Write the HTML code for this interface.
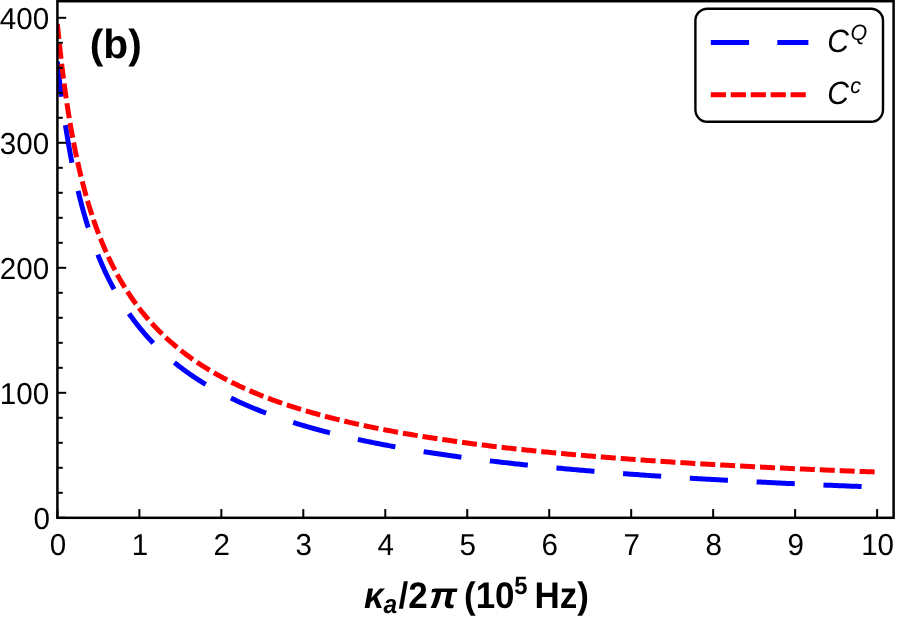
<!DOCTYPE html>
<html><head><meta charset="utf-8"><title>plot</title>
<style>
html,body{margin:0;padding:0;background:#fff;}
body{width:897px;height:618px;overflow:hidden;}
svg{display:block;will-change:transform;text-rendering:geometricPrecision;font-family:"Liberation Sans",sans-serif;}
.tk line{stroke:#000;stroke-width:2.0;}
.lab text{font-size:29.6px;fill:#000;}
</style></head>
<body>
<svg width="897" height="618" viewBox="0 0 897 618">
<rect width="897" height="618" fill="#fff"/>
<defs><clipPath id="cp"><rect x="57.4" y="1.2" width="836.20" height="516.60"/></clipPath></defs>
<g clip-path="url(#cp)" fill="none" stroke-width="5.0">
<path d="M57.4,61.75 L57.51,62.77 L57.63,63.94 L57.73,64.87 L57.85,65.98 L57.99,67.26 L58.09,68.22 L58.2,69.26 L58.33,70.38 L58.46,71.58 L58.6,72.85 L58.75,74.21 L58.91,75.64 L59.09,77.14 L59.27,78.72 L59.46,80.38 L59.66,82.1 L59.77,82.99 L59.87,83.9 L59.98,84.82 L60.1,85.76 L60.21,86.72 L60.33,87.69 L60.45,88.68 L60.58,89.68 L60.7,90.71 L60.83,91.74 L60.96,92.79 L61.1,93.86 L61.23,94.94 L61.37,96.04 L61.51,97.15 L61.66,98.27 L61.81,99.41 L61.96,100.56 L62.11,101.72 L62.27,102.89 L62.43,104.08 L62.59,105.28 L62.75,106.49 L62.92,107.72 L63.09,108.95 L63.26,110.2 L63.44,111.45 L63.62,112.72 L63.8,114 L63.98,115.28 L64.17,116.58 L64.36,117.88 L64.55,119.2 L64.75,120.52 L64.95,121.85 L65.15,123.19 L65.35,124.54 L65.56,125.89 L65.77,127.25 L65.98,128.62 L66.2,130 L66.42,131.38 L66.64,132.76 L66.87,134.16 L67.09,135.56 L67.32,136.96 L67.56,138.37 L67.79,139.78 L68.03,141.2 L68.28,142.63 L68.52,144.05 L68.77,145.48 L69.02,146.92 L69.28,148.36 L69.54,149.8 L69.8,151.24 L70.06,152.69 L70.33,154.14 L70.6,155.59 L70.87,157.04 L71.14,158.49 L71.42,159.95 L71.71,161.41 L71.99,162.87 L72.28,164.33 L72.57,165.79 L72.86,167.25 L73.16,168.71 L73.46,170.17 L73.77,171.63 L74.07,173.09 L74.38,174.56 L74.7,176.02 L75.01,177.48 L75.33,178.94 L75.65,180.39 L75.98,181.85 L76.31,183.31 L76.64,184.76 L76.97,186.21 L77.31,187.66 L77.65,189.11 L78,190.56 L78.34,192.01 L78.7,193.45 L79.05,194.89 L79.41,196.33 L79.77,197.76 L80.13,199.19 L80.5,200.62 L80.87,202.05 L81.24,203.48 L81.62,204.9 L81.99,206.31 L82.38,207.73 L82.76,209.14 L83.15,210.55 L83.54,211.95 L83.94,213.35 L84.34,214.75 L84.74,216.14 L85.15,217.53 L85.55,218.91 L85.97,220.29 L86.38,221.67 L86.8,223.04 L87.22,224.41 L87.65,225.77 L88.07,227.13 L88.51,228.49 L88.94,229.84 L89.38,231.18 L89.82,232.52 L90.27,233.86 L90.71,235.19 L91.16,236.52 L91.62,237.84 L92.08,239.16 L92.54,240.47 L93,241.78 L93.47,243.08 L93.94,244.38 L94.42,245.67 L94.89,246.96 L95.38,248.25 L95.86,249.52 L96.35,250.8 L96.84,252.07 L97.33,253.33 L97.83,254.59 L98.33,255.84 L98.84,257.09 L99.35,258.33 L99.86,259.57 L100.37,260.8 L100.89,262.02 L101.41,263.25 L101.94,264.46 L102.47,265.67 L103,266.88 L103.53,268.08 L104.07,269.27 L104.61,270.46 L105.16,271.65 L105.71,272.83 L106.26,274 L106.82,275.17 L107.38,276.33 L107.94,277.49 L108.51,278.64 L109.08,279.79 L109.65,280.93 L110.22,282.07 L110.8,283.2 L111.39,284.33 L111.97,285.45 L112.57,286.56 L113.16,287.67 L113.76,288.78 L114.36,289.88 L114.96,290.97 L115.57,292.06 L116.18,293.14 L116.79,294.22 L117.41,295.3 L118.03,296.36 L118.66,297.43 L119.29,298.49 L119.92,299.54 L120.56,300.59 L121.19,301.63 L121.84,302.67 L122.48,303.7 L123.13,304.73 L123.79,305.75 L124.44,306.77 L125.1,307.78 L125.77,308.78 L126.43,309.79 L127.1,310.78 L127.78,311.77 L128.46,312.76 L129.14,313.74 L129.82,314.72 L130.51,315.69 L131.2,316.66 L131.9,317.62 L132.6,318.58 L133.3,319.53 L134.01,320.48 L134.72,321.42 L135.43,322.36 L136.15,323.29 L136.87,324.22 L137.59,325.15 L138.32,326.07 L139.05,326.98 L139.79,327.89 L140.53,328.79 L141.27,329.7 L142.01,330.59 L142.76,331.48 L143.52,332.37 L144.27,333.25 L145.03,334.13 L145.8,335 L146.56,335.87 L147.34,336.73 L148.11,337.59 L148.89,338.45 L149.67,339.3 L150.46,340.14 L151.25,340.98 L152.04,341.82 L152.84,342.65 L153.64,343.48 L154.44,344.31 L155.25,345.13 L156.06,345.94 L156.87,346.75 L157.69,347.56 L158.51,348.36 L159.34,349.16 L160.17,349.96 L161,350.75 L161.84,351.53 L162.68,352.32 L163.52,353.09 L164.37,353.87 L165.22,354.64 L166.08,355.4 L166.93,356.16 L167.8,356.92 L168.66,357.68 L169.53,358.43 L170.41,359.17 L171.28,359.91 L172.17,360.65 L173.05,361.39 L173.94,362.12 L174.83,362.84 L175.73,363.57 L176.63,364.28 L177.53,365 L178.44,365.71 L179.35,366.42 L180.26,367.12 L181.18,367.82 L182.1,368.52 L183.03,369.21 L183.96,369.9 L184.89,370.59 L185.83,371.27 L186.77,371.95 L187.71,372.62 L188.66,373.29 L189.61,373.96 L190.57,374.63 L191.52,375.29 L192.49,375.94 L193.45,376.6 L194.43,377.25 L195.4,377.89 L196.38,378.54 L197.36,379.18 L198.35,379.81 L199.33,380.45 L200.33,381.08 L201.32,381.7 L202.33,382.33 L203.33,382.95 L204.34,383.56 L205.35,384.18 L206.37,384.79 L207.39,385.4 L208.41,386 L209.44,386.6 L210.47,387.2 L211.5,387.79 L212.54,388.38 L213.58,388.97 L214.63,389.56 L215.68,390.14 L216.73,390.72 L217.79,391.29 L218.85,391.87 L219.92,392.44 L220.99,393 L222.06,393.57 L223.14,394.13 L224.22,394.69 L225.3,395.24 L226.39,395.8 L227.48,396.34 L228.58,396.89 L229.68,397.43 L230.78,397.98 L231.89,398.51 L233,399.05 L234.12,399.58 L235.24,400.11 L236.36,400.64 L237.49,401.16 L238.62,401.68 L239.75,402.2 L240.89,402.72 L242.03,403.23 L243.18,403.74 L244.33,404.25 L245.48,404.75 L246.64,405.26 L247.8,405.76 L248.97,406.25 L250.14,406.75 L251.31,407.24 L252.49,407.73 L253.67,408.22 L254.85,408.7 L256.04,409.18 L257.23,409.66 L258.43,410.14 L259.63,410.62 L260.84,411.09 L262.04,411.56 L263.26,412.03 L264.47,412.49 L265.69,412.95 L266.92,413.41 L268.14,413.87 L269.38,414.33 L270.61,414.78 L271.85,415.23 L273.1,415.68 L274.34,416.12 L275.59,416.57 L276.85,417.01 L278.11,417.45 L279.37,417.88 L280.64,418.32 L281.91,418.75 L283.18,419.18 L284.46,419.61 L285.75,420.03 L287.03,420.46 L288.32,420.88 L289.62,421.3 L290.92,421.71 L292.22,422.13 L293.53,422.54 L294.84,422.95 L296.15,423.36 L297.47,423.77 L298.79,424.17 L300.12,424.57 L301.45,424.97 L302.78,425.37 L304.12,425.77 L305.46,426.16 L306.81,426.55 L308.16,426.94 L309.51,427.33 L310.87,427.72 L312.23,428.1 L313.6,428.49 L314.97,428.87 L316.34,429.24 L317.72,429.62 L319.1,429.99 L320.49,430.37 L321.88,430.74 L323.27,431.11 L324.67,431.47 L326.07,431.84 L327.48,432.2 L328.89,432.56 L330.3,432.92 L331.72,433.28 L333.14,433.64 L334.57,433.99 L336,434.34 L337.43,434.69 L338.87,435.04 L340.31,435.39 L341.76,435.73 L343.21,436.08 L344.66,436.42 L346.12,436.76 L347.59,437.1 L349.05,437.43 L350.52,437.77 L352,438.1 L353.47,438.43 L354.96,438.76 L356.44,439.09 L357.93,439.42 L359.43,439.74 L360.93,440.07 L362.43,440.39 L363.94,440.71 L365.45,441.03 L366.96,441.34 L368.48,441.66 L370,441.97 L371.53,442.28 L373.06,442.59 L374.6,442.9 L376.14,443.21 L377.68,443.52 L379.23,443.82 L380.78,444.12 L382.33,444.43 L383.89,444.72 L385.46,445.02 L387.02,445.32 L388.59,445.62 L390.17,445.91 L391.75,446.2 L393.33,446.49 L394.92,446.78 L396.51,447.07 L398.11,447.36 L399.71,447.64 L401.32,447.93 L402.92,448.21 L404.54,448.49 L406.15,448.77 L407.77,449.05 L409.4,449.33 L411.03,449.6 L412.66,449.88 L414.3,450.15 L415.94,450.42 L417.58,450.69 L419.23,450.96 L420.89,451.23 L422.54,451.49 L424.21,451.76 L425.87,452.02 L427.54,452.28 L429.22,452.54 L430.89,452.8 L432.58,453.06 L434.26,453.32 L435.95,453.58 L437.65,453.83 L439.35,454.08 L441.05,454.34 L442.76,454.59 L444.47,454.84 L446.19,455.09 L447.9,455.33 L449.63,455.58 L451.36,455.82 L453.09,456.07 L454.82,456.31 L456.56,456.55 L458.31,456.79 L460.06,457.03 L461.81,457.27 L463.57,457.51 L465.33,457.74 L467.09,457.98 L468.86,458.21 L470.64,458.44 L472.41,458.67 L474.2,458.9 L475.98,459.13 L477.77,459.36 L479.57,459.58 L481.37,459.81 L483.17,460.03 L484.98,460.26 L486.79,460.48 L488.6,460.7 L490.42,460.92 L492.24,461.14 L494.07,461.36 L495.9,461.57 L497.74,461.79 L499.58,462.01 L501.43,462.22 L503.27,462.43 L505.13,462.64 L506.98,462.85 L508.85,463.06 L510.71,463.27 L512.58,463.48 L514.45,463.69 L516.33,463.89 L518.21,464.1 L520.1,464.3 L521.99,464.5 L523.89,464.71 L525.79,464.91 L527.69,465.11 L529.6,465.31 L531.51,465.5 L533.42,465.7 L535.34,465.9 L537.27,466.09 L539.2,466.29 L541.13,466.48 L543.07,466.67 L545.01,466.86 L546.95,467.05 L548.9,467.24 L550.86,467.43 L552.82,467.62 L554.78,467.81 L556.74,467.99 L558.72,468.18 L560.69,468.36 L562.67,468.55 L564.65,468.73 L566.64,468.91 L568.63,469.09 L570.63,469.27 L572.63,469.45 L574.63,469.63 L576.64,469.81 L578.66,469.98 L580.67,470.16 L582.7,470.33 L584.72,470.51 L586.75,470.68 L588.79,470.85 L590.83,471.03 L592.87,471.2 L594.92,471.37 L596.97,471.54 L599.02,471.7 L601.08,471.87 L603.15,472.04 L605.22,472.2 L607.29,472.37 L609.37,472.53 L611.45,472.7 L613.53,472.86 L615.62,473.02 L617.72,473.19 L619.82,473.35 L621.92,473.51 L624.03,473.66 L626.14,473.82 L628.25,473.98 L630.37,474.14 L632.5,474.29 L634.63,474.45 L636.76,474.6 L638.9,474.76 L641.04,474.91 L643.18,475.06 L645.33,475.22 L647.49,475.37 L649.65,475.52 L651.81,475.67 L653.98,475.82 L656.15,475.97 L658.32,476.11 L660.51,476.26 L662.69,476.41 L664.88,476.55 L667.07,476.7 L669.27,476.84 L671.47,476.99 L673.68,477.13 L675.89,477.27 L678.1,477.41 L680.32,477.55 L682.54,477.69 L684.77,477.83 L687,477.97 L689.24,478.11 L691.48,478.25 L693.72,478.39 L695.97,478.52 L698.23,478.66 L700.49,478.79 L702.75,478.93 L705.01,479.06 L707.29,479.19 L709.56,479.33 L711.84,479.46 L714.12,479.59 L716.41,479.72 L718.7,479.85 L721,479.98 L723.3,480.11 L725.61,480.24 L727.92,480.37 L730.23,480.49 L732.55,480.62 L734.87,480.75 L737.2,480.87 L739.53,481 L741.87,481.12 L744.21,481.25 L746.55,481.37 L748.9,481.49 L751.26,481.61 L753.62,481.73 L755.98,481.86 L758.34,481.98 L760.71,482.1 L763.09,482.22 L765.47,482.33 L767.85,482.45 L770.24,482.57 L772.64,482.69 L775.03,482.8 L777.43,482.92 L779.84,483.03 L782.25,483.15 L784.67,483.26 L787.08,483.38 L789.51,483.49 L791.94,483.6 L794.37,483.72 L796.8,483.83 L799.25,483.94 L801.69,484.05 L804.14,484.16 L806.59,484.27 L809.05,484.38 L811.52,484.49 L813.98,484.6 L816.46,484.7 L818.93,484.81 L821.41,484.92 L823.9,485.02 L826.39,485.13 L828.88,485.24 L831.38,485.34 L833.88,485.44 L836.39,485.55 L838.9,485.65 L841.42,485.75 L843.94,485.86 L846.46,485.96 L848.99,486.06 L851.52,486.16 L854.06,486.26 L856.6,486.36 L859.15,486.46 L861.7,486.56 L864.26,486.66 L866.82,486.76 L869.38,486.86 L871.95,486.95 L874.52,487.05 L877.1,487.15" stroke="#0000ff" stroke-dasharray="38.2 28.7" stroke-dashoffset="3"/>
<path d="M57.4,24.08 L57.49,25.01 L57.6,26.18 L57.69,27.14 L57.81,28.29 L57.94,29.63 L58.04,30.64 L58.15,31.73 L58.26,32.91 L58.39,34.18 L58.53,35.54 L58.68,36.97 L58.83,38.5 L59,40.1 L59.18,41.79 L59.36,43.56 L59.46,44.47 L59.56,45.41 L59.66,46.36 L59.77,47.33 L59.87,48.32 L59.98,49.33 L60.1,50.35 L60.21,51.4 L60.33,52.46 L60.45,53.54 L60.58,54.63 L60.7,55.75 L60.83,56.88 L60.96,58.02 L61.1,59.19 L61.23,60.36 L61.37,61.56 L61.51,62.76 L61.66,63.99 L61.81,65.22 L61.96,66.48 L62.11,67.74 L62.27,69.02 L62.43,70.31 L62.59,71.62 L62.75,72.93 L62.92,74.26 L63.09,75.6 L63.26,76.96 L63.44,78.32 L63.62,79.7 L63.8,81.08 L63.98,82.48 L64.17,83.88 L64.36,85.3 L64.55,86.72 L64.75,88.16 L64.95,89.6 L65.15,91.05 L65.35,92.51 L65.56,93.98 L65.77,95.45 L65.98,96.93 L66.2,98.42 L66.42,99.91 L66.64,101.42 L66.87,102.92 L67.09,104.43 L67.32,105.95 L67.56,107.47 L67.79,109 L68.03,110.53 L68.28,112.07 L68.52,113.61 L68.77,115.16 L69.02,116.7 L69.28,118.25 L69.54,119.81 L69.8,121.36 L70.06,122.92 L70.33,124.48 L70.6,126.05 L70.87,127.61 L71.14,129.18 L71.42,130.74 L71.71,132.31 L71.99,133.88 L72.28,135.45 L72.57,137.02 L72.86,138.59 L73.16,140.16 L73.46,141.73 L73.77,143.3 L74.07,144.87 L74.38,146.44 L74.7,148.01 L75.01,149.58 L75.33,151.14 L75.65,152.7 L75.98,154.27 L76.31,155.83 L76.64,157.39 L76.97,158.94 L77.31,160.5 L77.65,162.05 L78,163.6 L78.34,165.15 L78.7,166.69 L79.05,168.23 L79.41,169.77 L79.77,171.3 L80.13,172.84 L80.5,174.36 L80.87,175.89 L81.24,177.41 L81.62,178.93 L81.99,180.44 L82.38,181.95 L82.76,183.46 L83.15,184.96 L83.54,186.46 L83.94,187.95 L84.34,189.44 L84.74,190.92 L85.15,192.41 L85.55,193.88 L85.97,195.35 L86.38,196.82 L86.8,198.28 L87.22,199.74 L87.65,201.19 L88.07,202.64 L88.51,204.08 L88.94,205.51 L89.38,206.95 L89.82,208.37 L90.27,209.79 L90.71,211.21 L91.16,212.62 L91.62,214.03 L92.08,215.43 L92.54,216.82 L93,218.21 L93.47,219.59 L93.94,220.97 L94.42,222.34 L94.89,223.71 L95.38,225.07 L95.86,226.43 L96.35,227.78 L96.84,229.12 L97.33,230.46 L97.83,231.8 L98.33,233.12 L98.84,234.44 L99.35,235.76 L99.86,237.07 L100.37,238.37 L100.89,239.67 L101.41,240.97 L101.94,242.25 L102.47,243.53 L103,244.81 L103.53,246.08 L104.07,247.34 L104.61,248.6 L105.16,249.85 L105.71,251.1 L106.26,252.34 L106.82,253.57 L107.38,254.8 L107.94,256.03 L108.51,257.24 L109.08,258.45 L109.65,259.66 L110.22,260.86 L110.8,262.05 L111.39,263.24 L111.97,264.42 L112.57,265.6 L113.16,266.77 L113.76,267.93 L114.36,269.09 L114.96,270.25 L115.57,271.39 L116.18,272.54 L116.79,273.67 L117.41,274.8 L118.03,275.93 L118.66,277.05 L119.29,278.16 L119.92,279.27 L120.56,280.37 L121.19,281.47 L121.84,282.56 L122.48,283.64 L123.13,284.72 L123.79,285.8 L124.44,286.87 L125.1,287.93 L125.77,288.99 L126.43,290.04 L127.1,291.09 L127.78,292.13 L128.46,293.17 L129.14,294.2 L129.82,295.22 L130.51,296.24 L131.2,297.26 L131.9,298.27 L132.6,299.27 L133.3,300.27 L134.01,301.26 L134.72,302.25 L135.43,303.24 L136.15,304.21 L136.87,305.19 L137.59,306.15 L138.32,307.12 L139.05,308.07 L139.79,309.03 L140.53,309.97 L141.27,310.92 L142.01,311.85 L142.76,312.79 L143.52,313.71 L144.27,314.64 L145.03,315.55 L145.8,316.47 L146.56,317.37 L147.34,318.28 L148.11,319.17 L148.89,320.07 L149.67,320.96 L150.46,321.84 L151.25,322.72 L152.04,323.59 L152.84,324.46 L153.64,325.33 L154.44,326.19 L155.25,327.04 L156.06,327.89 L156.87,328.74 L157.69,329.58 L158.51,330.42 L159.34,331.25 L160.17,332.08 L161,332.9 L161.84,333.72 L162.68,334.54 L163.52,335.35 L164.37,336.15 L165.22,336.96 L166.08,337.75 L166.93,338.55 L167.8,339.33 L168.66,340.12 L169.53,340.9 L170.41,341.68 L171.28,342.45 L172.17,343.22 L173.05,343.98 L173.94,344.74 L174.83,345.49 L175.73,346.24 L176.63,346.99 L177.53,347.73 L178.44,348.47 L179.35,349.21 L180.26,349.94 L181.18,350.67 L182.1,351.39 L183.03,352.11 L183.96,352.82 L184.89,353.53 L185.83,354.24 L186.77,354.95 L187.71,355.64 L188.66,356.34 L189.61,357.03 L190.57,357.72 L191.52,358.41 L192.49,359.09 L193.45,359.76 L194.43,360.44 L195.4,361.11 L196.38,361.77 L197.36,362.44 L198.35,363.1 L199.33,363.75 L200.33,364.4 L201.32,365.05 L202.33,365.7 L203.33,366.34 L204.34,366.98 L205.35,367.61 L206.37,368.24 L207.39,368.87 L208.41,369.49 L209.44,370.11 L210.47,370.73 L211.5,371.35 L212.54,371.96 L213.58,372.56 L214.63,373.17 L215.68,373.77 L216.73,374.37 L217.79,374.96 L218.85,375.55 L219.92,376.14 L220.99,376.73 L222.06,377.31 L223.14,377.89 L224.22,378.46 L225.3,379.03 L226.39,379.6 L227.48,380.17 L228.58,380.73 L229.68,381.29 L230.78,381.85 L231.89,382.4 L233,382.95 L234.12,383.5 L235.24,384.05 L236.36,384.59 L237.49,385.13 L238.62,385.67 L239.75,386.2 L240.89,386.73 L242.03,387.26 L243.18,387.78 L244.33,388.31 L245.48,388.82 L246.64,389.34 L247.8,389.85 L248.97,390.37 L250.14,390.87 L251.31,391.38 L252.49,391.88 L253.67,392.38 L254.85,392.88 L256.04,393.38 L257.23,393.87 L258.43,394.36 L259.63,394.84 L260.84,395.33 L262.04,395.81 L263.26,396.29 L264.47,396.77 L265.69,397.24 L266.92,397.71 L268.14,398.18 L269.38,398.65 L270.61,399.11 L271.85,399.57 L273.1,400.03 L274.34,400.49 L275.59,400.94 L276.85,401.39 L278.11,401.84 L279.37,402.29 L280.64,402.74 L281.91,403.18 L283.18,403.62 L284.46,404.06 L285.75,404.49 L287.03,404.92 L288.32,405.35 L289.62,405.78 L290.92,406.21 L292.22,406.63 L293.53,407.06 L294.84,407.47 L296.15,407.89 L297.47,408.31 L298.79,408.72 L300.12,409.13 L301.45,409.54 L302.78,409.95 L304.12,410.35 L305.46,410.75 L306.81,411.15 L308.16,411.55 L309.51,411.95 L310.87,412.34 L312.23,412.73 L313.6,413.12 L314.97,413.51 L316.34,413.89 L317.72,414.28 L319.1,414.66 L320.49,415.04 L321.88,415.42 L323.27,415.79 L324.67,416.16 L326.07,416.54 L327.48,416.91 L328.89,417.27 L330.3,417.64 L331.72,418 L333.14,418.37 L334.57,418.73 L336,419.08 L337.43,419.44 L338.87,419.8 L340.31,420.15 L341.76,420.5 L343.21,420.85 L344.66,421.2 L346.12,421.54 L347.59,421.88 L349.05,422.23 L350.52,422.57 L352,422.91 L353.47,423.24 L354.96,423.58 L356.44,423.91 L357.93,424.24 L359.43,424.57 L360.93,424.9 L362.43,425.23 L363.94,425.55 L365.45,425.87 L366.96,426.19 L368.48,426.51 L370,426.83 L371.53,427.15 L373.06,427.46 L374.6,427.78 L376.14,428.09 L377.68,428.4 L379.23,428.71 L380.78,429.01 L382.33,429.32 L383.89,429.62 L385.46,429.92 L387.02,430.23 L388.59,430.52 L390.17,430.82 L391.75,431.12 L393.33,431.41 L394.92,431.71 L396.51,432 L398.11,432.29 L399.71,432.58 L401.32,432.86 L402.92,433.15 L404.54,433.43 L406.15,433.71 L407.77,434 L409.4,434.28 L411.03,434.55 L412.66,434.83 L414.3,435.11 L415.94,435.38 L417.58,435.65 L419.23,435.93 L420.89,436.2 L422.54,436.46 L424.21,436.73 L425.87,437 L427.54,437.26 L429.22,437.53 L430.89,437.79 L432.58,438.05 L434.26,438.31 L435.95,438.57 L437.65,438.82 L439.35,439.08 L441.05,439.33 L442.76,439.59 L444.47,439.84 L446.19,440.09 L447.9,440.34 L449.63,440.58 L451.36,440.83 L453.09,441.08 L454.82,441.32 L456.56,441.56 L458.31,441.81 L460.06,442.05 L461.81,442.29 L463.57,442.52 L465.33,442.76 L467.09,443 L468.86,443.23 L470.64,443.46 L472.41,443.7 L474.2,443.93 L475.98,444.16 L477.77,444.39 L479.57,444.61 L481.37,444.84 L483.17,445.07 L484.98,445.29 L486.79,445.51 L488.6,445.74 L490.42,445.96 L492.24,446.18 L494.07,446.4 L495.9,446.61 L497.74,446.83 L499.58,447.05 L501.43,447.26 L503.27,447.47 L505.13,447.69 L506.98,447.9 L508.85,448.11 L510.71,448.32 L512.58,448.53 L514.45,448.73 L516.33,448.94 L518.21,449.14 L520.1,449.35 L521.99,449.55 L523.89,449.75 L525.79,449.96 L527.69,450.16 L529.6,450.35 L531.51,450.55 L533.42,450.75 L535.34,450.95 L537.27,451.14 L539.2,451.34 L541.13,451.53 L543.07,451.72 L545.01,451.91 L546.95,452.1 L548.9,452.29 L550.86,452.48 L552.82,452.67 L554.78,452.86 L556.74,453.04 L558.72,453.23 L560.69,453.41 L562.67,453.6 L564.65,453.78 L566.64,453.96 L568.63,454.14 L570.63,454.32 L572.63,454.5 L574.63,454.68 L576.64,454.86 L578.66,455.03 L580.67,455.21 L582.7,455.38 L584.72,455.56 L586.75,455.73 L588.79,455.9 L590.83,456.07 L592.87,456.24 L594.92,456.41 L596.97,456.58 L599.02,456.75 L601.08,456.92 L603.15,457.08 L605.22,457.25 L607.29,457.41 L609.37,457.58 L611.45,457.74 L613.53,457.9 L615.62,458.06 L617.72,458.23 L619.82,458.39 L621.92,458.54 L624.03,458.7 L626.14,458.86 L628.25,459.02 L630.37,459.17 L632.5,459.33 L634.63,459.48 L636.76,459.64 L638.9,459.79 L641.04,459.94 L643.18,460.1 L645.33,460.25 L647.49,460.4 L649.65,460.55 L651.81,460.7 L653.98,460.84 L656.15,460.99 L658.32,461.14 L660.51,461.28 L662.69,461.43 L664.88,461.57 L667.07,461.72 L669.27,461.86 L671.47,462 L673.68,462.15 L675.89,462.29 L678.1,462.43 L680.32,462.57 L682.54,462.71 L684.77,462.85 L687,462.98 L689.24,463.12 L691.48,463.26 L693.72,463.39 L695.97,463.53 L698.23,463.66 L700.49,463.8 L702.75,463.93 L705.01,464.06 L707.29,464.2 L709.56,464.33 L711.84,464.46 L714.12,464.59 L716.41,464.72 L718.7,464.85 L721,464.98 L723.3,465.1 L725.61,465.23 L727.92,465.36 L730.23,465.48 L732.55,465.61 L734.87,465.73 L737.2,465.86 L739.53,465.98 L741.87,466.1 L744.21,466.23 L746.55,466.35 L748.9,466.47 L751.26,466.59 L753.62,466.71 L755.98,466.83 L758.34,466.95 L760.71,467.07 L763.09,467.19 L765.47,467.3 L767.85,467.42 L770.24,467.54 L772.64,467.65 L775.03,467.77 L777.43,467.88 L779.84,467.99 L782.25,468.11 L784.67,468.22 L787.08,468.33 L789.51,468.45 L791.94,468.56 L794.37,468.67 L796.8,468.78 L799.25,468.89 L801.69,469 L804.14,469.11 L806.59,469.21 L809.05,469.32 L811.52,469.43 L813.98,469.53 L816.46,469.64 L818.93,469.75 L821.41,469.85 L823.9,469.96 L826.39,470.06 L828.88,470.16 L831.38,470.27 L833.88,470.37 L836.39,470.47 L838.9,470.57 L841.42,470.67 L843.94,470.78 L846.46,470.88 L848.99,470.98 L851.52,471.07 L854.06,471.17 L856.6,471.27 L859.15,471.37 L861.7,471.47 L864.26,471.56 L866.82,471.66 L869.38,471.76 L871.95,471.85 L874.52,471.95 L877.1,472.04" stroke="#ff0000" stroke-dasharray="15 4.94"/>
</g>
<g class="tk">
<line x1="57.4" y1="517.80" x2="66.20" y2="517.80"/>
<line x1="57.4" y1="492.80" x2="62.80" y2="492.80"/>
<line x1="57.4" y1="467.80" x2="62.80" y2="467.80"/>
<line x1="57.4" y1="442.80" x2="62.80" y2="442.80"/>
<line x1="57.4" y1="417.80" x2="62.80" y2="417.80"/>
<line x1="57.4" y1="392.80" x2="66.20" y2="392.80"/>
<line x1="57.4" y1="367.80" x2="62.80" y2="367.80"/>
<line x1="57.4" y1="342.80" x2="62.80" y2="342.80"/>
<line x1="57.4" y1="317.80" x2="62.80" y2="317.80"/>
<line x1="57.4" y1="292.80" x2="62.80" y2="292.80"/>
<line x1="57.4" y1="267.80" x2="66.20" y2="267.80"/>
<line x1="57.4" y1="242.80" x2="62.80" y2="242.80"/>
<line x1="57.4" y1="217.80" x2="62.80" y2="217.80"/>
<line x1="57.4" y1="192.80" x2="62.80" y2="192.80"/>
<line x1="57.4" y1="167.80" x2="62.80" y2="167.80"/>
<line x1="57.4" y1="142.80" x2="66.20" y2="142.80"/>
<line x1="57.4" y1="117.80" x2="62.80" y2="117.80"/>
<line x1="57.4" y1="92.80" x2="62.80" y2="92.80"/>
<line x1="57.4" y1="67.80" x2="62.80" y2="67.80"/>
<line x1="57.4" y1="42.80" x2="62.80" y2="42.80"/>
<line x1="57.4" y1="17.80" x2="66.20" y2="17.80"/>
<line x1="57.40" y1="517.8" x2="57.40" y2="509.10"/>
<line x1="139.37" y1="517.8" x2="139.37" y2="509.10"/>
<line x1="221.34" y1="517.8" x2="221.34" y2="509.10"/>
<line x1="303.31" y1="517.8" x2="303.31" y2="509.10"/>
<line x1="385.28" y1="517.8" x2="385.28" y2="509.10"/>
<line x1="467.25" y1="517.8" x2="467.25" y2="509.10"/>
<line x1="549.22" y1="517.8" x2="549.22" y2="509.10"/>
<line x1="631.19" y1="517.8" x2="631.19" y2="509.10"/>
<line x1="713.16" y1="517.8" x2="713.16" y2="509.10"/>
<line x1="795.13" y1="517.8" x2="795.13" y2="509.10"/>
<line x1="877.10" y1="517.8" x2="877.10" y2="509.10"/>
</g>
<rect x="57.4" y="1.2" width="836.20" height="516.60" fill="none" stroke="#000" stroke-width="2.5"/>
<g class="lab">
<text transform="translate(49.90,529.20) scale(1,1.025)" text-anchor="end">0</text>
<text transform="translate(49.20,404.20) scale(1,1.025)" text-anchor="end">100</text>
<text transform="translate(49.20,279.20) scale(1,1.025)" text-anchor="end">200</text>
<text transform="translate(49.20,154.20) scale(1,1.025)" text-anchor="end">300</text>
<text transform="translate(49.20,29.20) scale(1,1.025)" text-anchor="end">400</text>
<text transform="translate(57.90,554.90) scale(1,1.025)" text-anchor="middle">0</text>
<text transform="translate(139.87,554.90) scale(1,1.025)" text-anchor="middle">1</text>
<text transform="translate(221.84,554.90) scale(1,1.025)" text-anchor="middle">2</text>
<text transform="translate(303.81,554.90) scale(1,1.025)" text-anchor="middle">3</text>
<text transform="translate(385.78,554.90) scale(1,1.025)" text-anchor="middle">4</text>
<text transform="translate(467.75,554.90) scale(1,1.025)" text-anchor="middle">5</text>
<text transform="translate(549.72,554.90) scale(1,1.025)" text-anchor="middle">6</text>
<text transform="translate(631.69,554.90) scale(1,1.025)" text-anchor="middle">7</text>
<text transform="translate(713.66,554.90) scale(1,1.025)" text-anchor="middle">8</text>
<text transform="translate(795.63,554.90) scale(1,1.025)" text-anchor="middle">9</text>
<text transform="translate(877.60,554.90) scale(1,1.025)" text-anchor="middle">10</text>
</g>
<text transform="translate(89.70,57.70) scale(1,1.0)" font-size="40.8px" font-weight="bold">(b)</text>
<!-- legend -->
<rect x="695.4" y="8.7" width="187.6" height="113.1" rx="12" ry="12" fill="#fff" stroke="#000" stroke-width="2.4"/>
<line x1="710.8" y1="42.55" x2="808.4" y2="42.55" stroke="#0000ff" stroke-width="5.0" stroke-dasharray="38.3 28.2"/>
<line x1="710.8" y1="94.65" x2="806" y2="94.65" stroke="#ff0000" stroke-width="5.0" stroke-dasharray="15.2 4.75"/>
<g font-style="italic">
<text transform="translate(827.30,51.50) scale(1,1.07)" font-size="30px">C</text>
<text transform="translate(850.46,40.30) scale(1,1.025)" font-size="21.5px">Q</text>
<text transform="translate(827.30,104.00) scale(1,1.07)" font-size="30px">C</text>
<text transform="translate(850.16,92.70) scale(1,1.025)" font-size="21.5px">c</text>
</g>
<!-- x axis label -->
<g font-weight="bold" font-size="35px">
<text transform="translate(363.90,607.60) scale(1,1.055)" font-style="italic">κ</text>
<text transform="translate(383.60,613.30) scale(1,1.055)" font-size="24.6px" font-style="italic">a</text>
<text transform="translate(398.50,607.60) scale(1,1.055)">/2</text>
<text transform="translate(429.30,607.60) scale(1.12,1.055)" font-style="italic">π</text>
<text transform="translate(464.00,607.60) scale(1,1.055)">(1</text>
<text transform="translate(494.90,607.60) scale(1,1.055)">0</text>
<text transform="translate(514.30,593.60) scale(1,1.055)" font-size="23.8px">5</text>
<text transform="translate(534.50,607.60) scale(1,1.055)">Hz)</text>
</g>
</svg>
</body></html>
